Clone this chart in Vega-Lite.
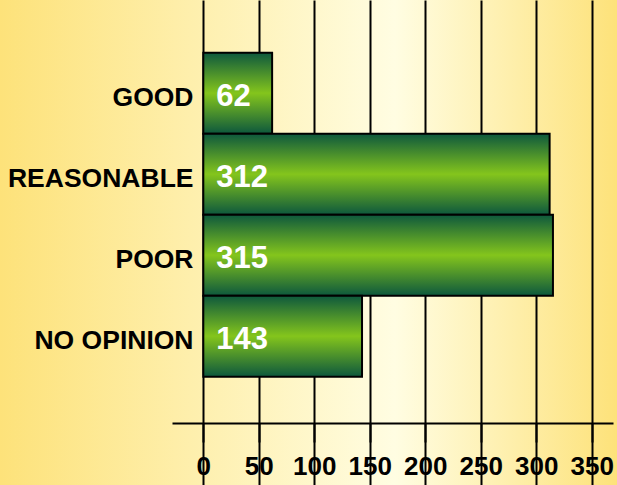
{
  "$schema": "https://vega.github.io/schema/vega-lite/v6.json",
  "width": 617,
  "height": 485,
  "padding": 0,
  "autosize": {"type": "none"},
  "background": "#fde37b",
  "view": {
    "stroke": null,
    "fill": {
      "gradient": "linear", "x1": 0, "y1": 0, "x2": 1, "y2": 0,
      "stops": [
        {"offset": 0, "color": "#fde27a"},
        {"offset": 0.64, "color": "#fffde2"},
        {"offset": 1, "color": "#fde27a"}
      ]
    }
  },
  "data": {
    "values": [
      {"category": "GOOD", "count": 62},
      {"category": "REASONABLE", "count": 312},
      {"category": "POOR", "count": 315},
      {"category": "NO OPINION", "count": 143}
    ]
  },
  "encoding": {
    "y": {
      "field": "category",
      "type": "nominal",
      "sort": null,
      "scale": {"paddingInner": 0, "paddingOuter": 0.994, "align": 0.327},
      "axis": {
        "title": null,
        "orient": "left",
        "offset": -203,
        "domain": false,
        "ticks": false,
        "grid": false,
        "labelPadding": 10,
        "labelOffset": 5,
        "labelLimit": 0,
        "labelFont": "Liberation Sans",
        "labelFontWeight": "bold",
        "labelFontSize": 26.5,
        "labelColor": "#000000"
      }
    }
  },
  "layer": [
    {
      "mark": {
        "type": "bar",
        "stroke": "#000000",
        "strokeWidth": 2,
        "fill": {
          "gradient": "linear", "x1": 0, "y1": 0, "x2": 0, "y2": 1,
          "stops": [
            {"offset": 0, "color": "#0d583d"},
            {"offset": 0.5, "color": "#84c51c"},
            {"offset": 1, "color": "#0d583d"}
          ]
        }
      },
      "encoding": {
        "x": {
          "field": "count",
          "type": "quantitative",
          "scale": {"domain": [-28.2, 369.1], "range": [172, 613], "nice": false, "zero": false},
          "axis": {
            "title": null,
            "orient": "bottom",
            "offset": -62,
            "values": [0, 50, 100, 150, 200, 250, 300, 350],
            "domain": true,
            "domainColor": "#000000",
            "domainWidth": 2,
            "ticks": true,
            "tickSize": 19,
            "tickColor": "#000000",
            "tickWidth": 2,
            "grid": true,
            "gridColor": "#000000",
            "gridWidth": 2,
            "gridOpacity": 1,
            "labelPadding": 11,
            "labelFont": "Liberation Sans",
            "labelFontWeight": "bold",
            "labelFontSize": 26,
            "labelColor": "#000000",
            "labelFlush": false,
            "labelOverlap": false
          }
        },
        "x2": {"datum": 0}
      }
    },
    {
      "mark": {
        "type": "text",
        "align": "left",
        "baseline": "middle",
        "dx": 13,
        "dy": 4,
        "fill": "#ffffff",
        "font": "Liberation Sans",
        "fontWeight": "bold",
        "fontSize": 31
      },
      "encoding": {
        "x": {"datum": 0},
        "text": {"field": "count", "type": "quantitative"}
      }
    }
  ]
}
